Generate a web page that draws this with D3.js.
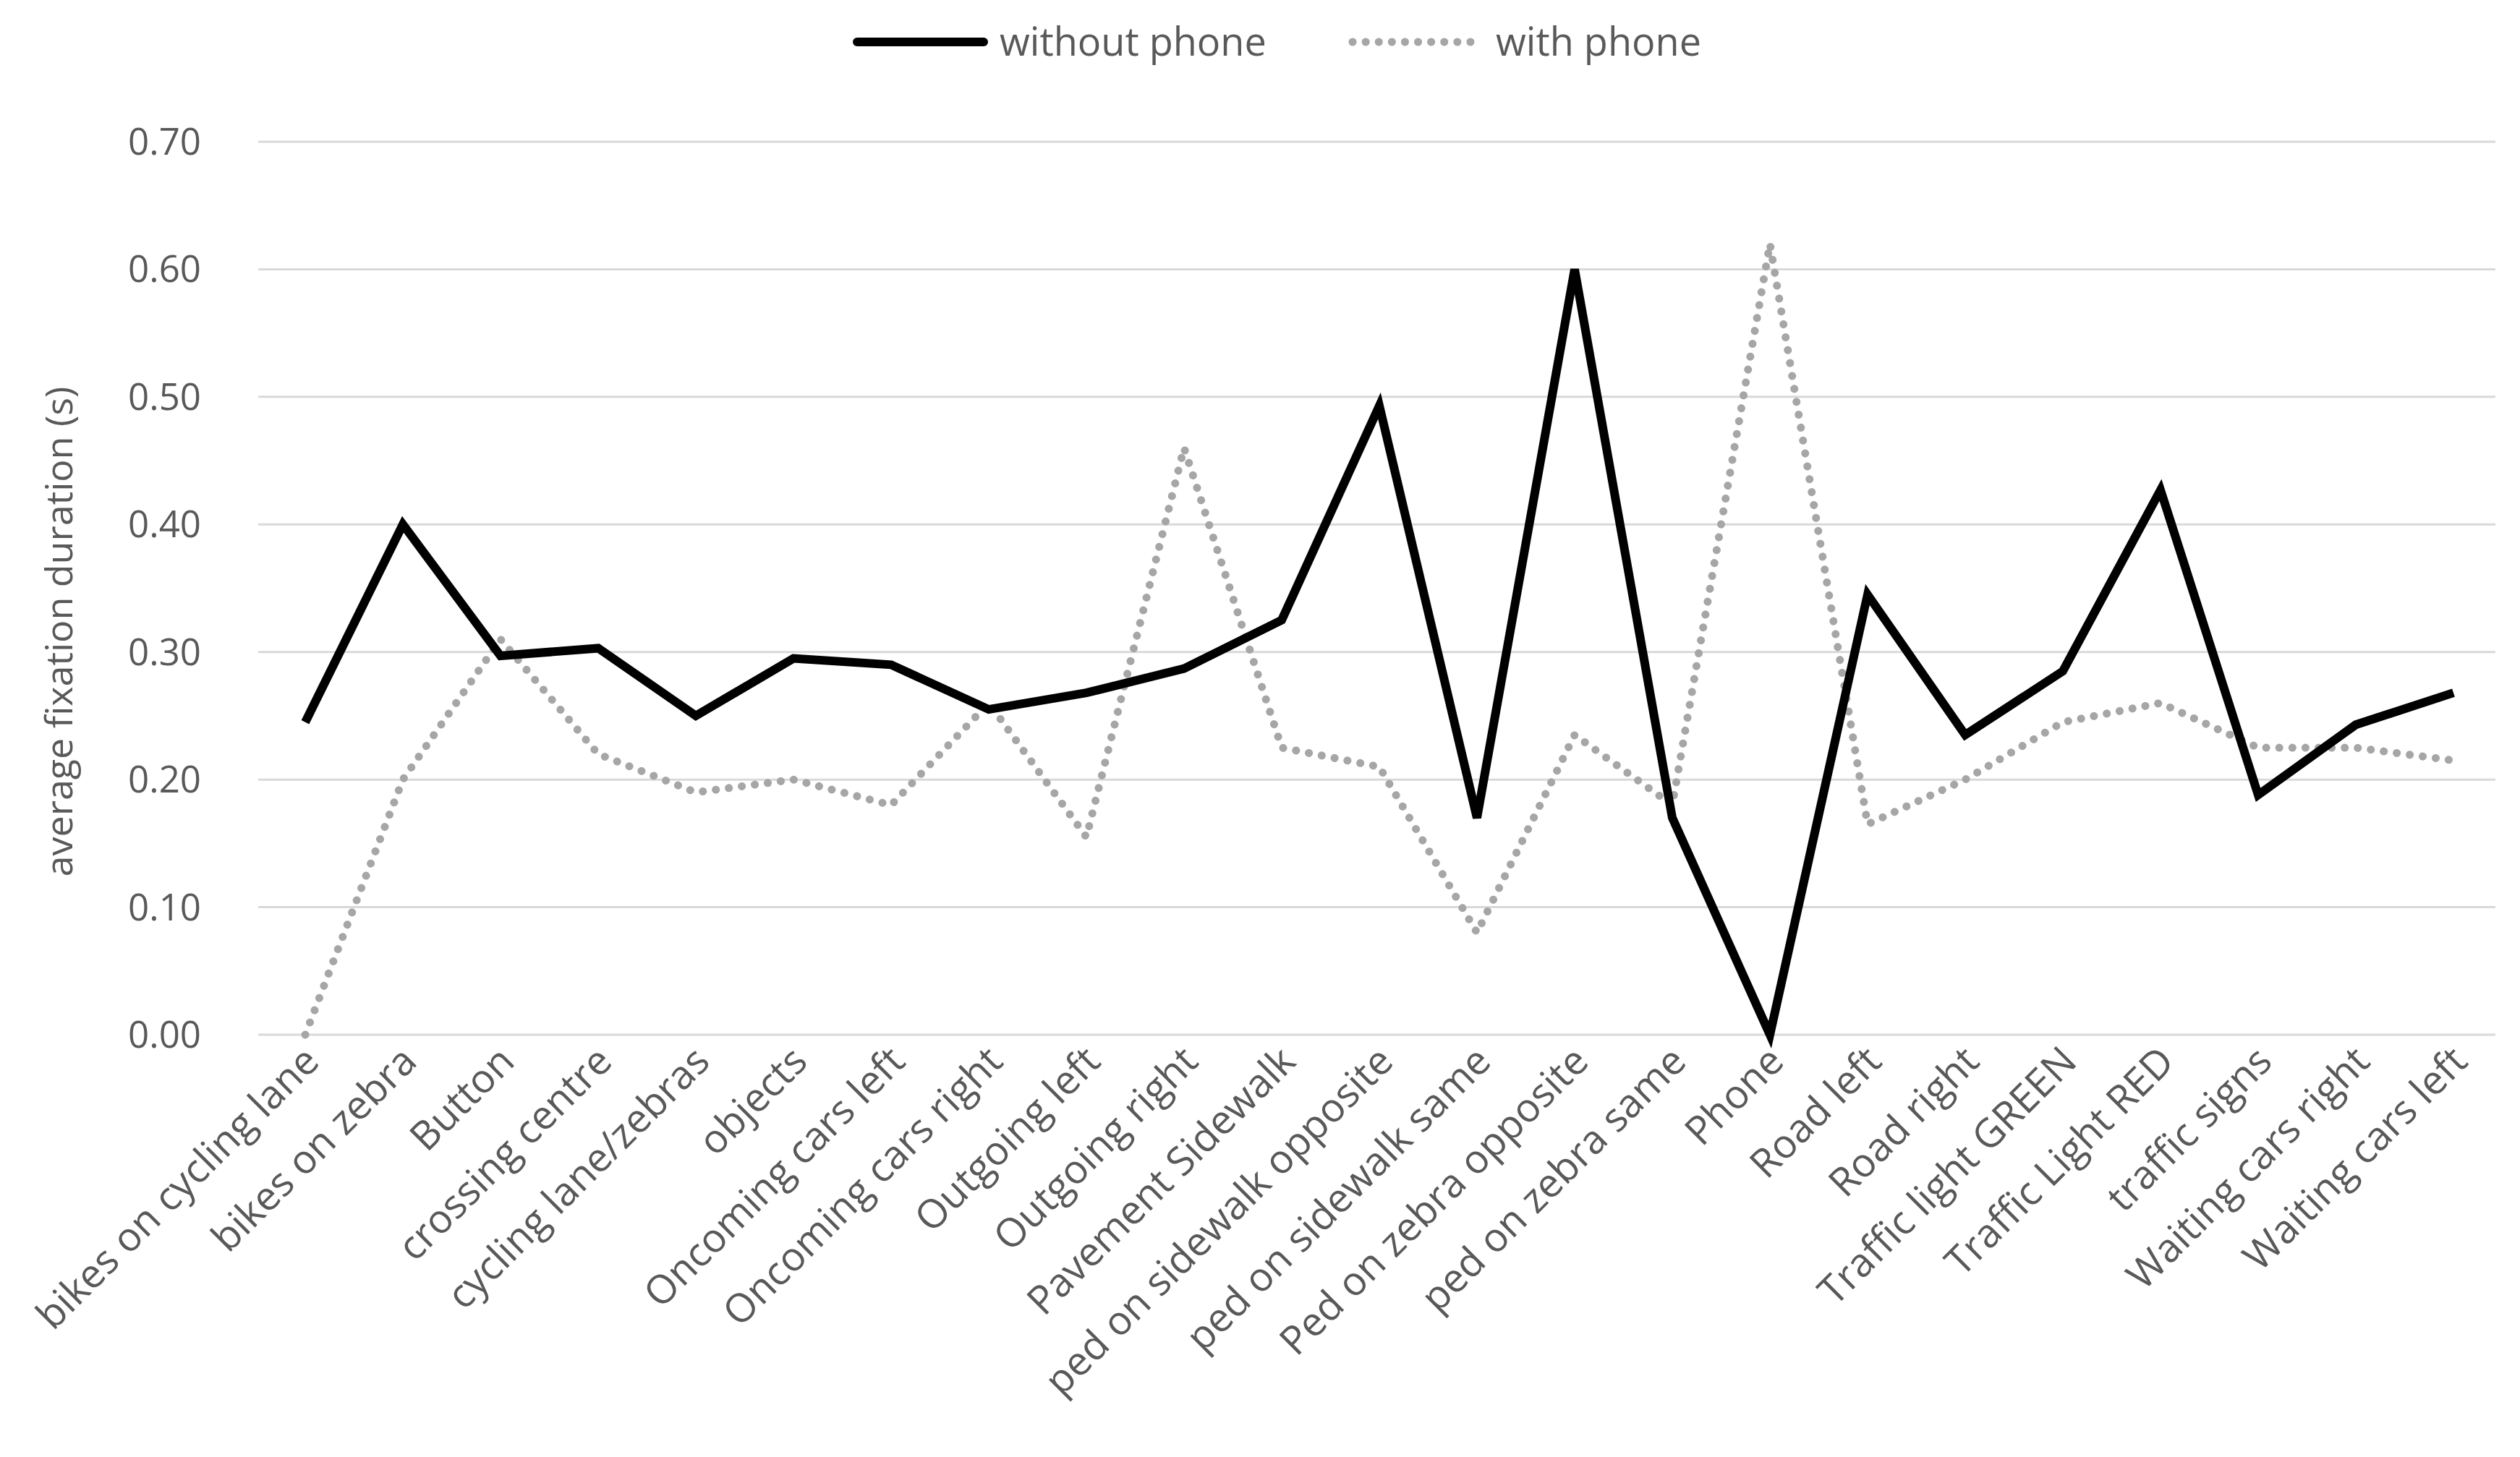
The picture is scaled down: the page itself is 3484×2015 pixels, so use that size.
<!DOCTYPE html>
<html><head><meta charset="utf-8">
<script src="https://cdn.jsdelivr.net/npm/d3@7"></script>
<style>body{margin:0;background:#fff}</style></head>
<body><svg id="c" width="3484" height="2015"></svg>
<script>
const categories=["bikes on cycling lane","bikes on zebra","Button","crossing centre","cycling lane/zebras","objects","Oncoming cars left","Oncoming cars right","Outgoing left","Outgoing right","Pavement Sidewalk","ped on sidewalk opposite","ped on sidewalk same","Ped on zebra opposite","ped on zebra same","Phone","Road left","Road right","Traffic light GREEN","Traffic Light RED","traffic signs","Waiting cars right","Waiting cars left"];
const withoutPhone=[0.245,0.40,0.297,0.303,0.25,0.295,0.29,0.255,0.268,0.287,0.325,0.493,0.17,0.60,0.17,0.0,0.345,0.235,0.285,0.427,0.188,0.243,0.268];
const withPhone=[0.0,0.20,0.31,0.22,0.19,0.20,0.18,0.26,0.155,0.46,0.225,0.21,0.08,0.235,0.18,0.62,0.165,0.2,0.245,0.26,0.225,0.225,0.215];
const yTicks=[0,0.1,0.2,0.3,0.4,0.5,0.6,0.7];
const svg=d3.select("#c"),font="'Open Sans', 'Liberation Sans', sans-serif";
const L=357,R=3450,T=196,B=1431;
const x=d3.scalePoint().domain(categories).range([422,3392]);
const y=d3.scaleLinear().domain([0,0.7]).range([B,T]);
const g=svg.append("g");
g.selectAll("line.g").data(yTicks).join("line").attr("x1",L).attr("x2",R)
 .attr("y1",d=>y(d)).attr("y2",d=>y(d)).attr("stroke","#d9d9d9").attr("stroke-width",3);
g.selectAll("text.y").data(yTicks).join("text").attr("x",278).attr("y",d=>y(d)+18)
 .attr("text-anchor","end").attr("font-family",font).attr("font-size",51).attr("fill","#595959").text(d=>d.toFixed(2));
g.selectAll("text.x").data(categories).join("text")
 .attr("transform",d=>`translate(${x(d)+22},${B+40}) rotate(-45)`)
 .attr("text-anchor","end").attr("font-family",font).attr("font-size",55).attr("fill","#595959").text(d=>d);
svg.append("text").attr("transform",`translate(100,${(T+B)/2+60}) rotate(-90)`).attr("text-anchor","middle")
 .attr("font-family",font).attr("font-size",52).attr("fill","#595959").text("average fixation duration (s)");
const line=d3.line().x((d,i)=>x(categories[i])).y(d=>y(d));
svg.append("path").attr("d",line(withPhone)).attr("fill","none").attr("stroke","#a6a6a6")
 .attr("stroke-width",11).attr("stroke-dasharray","0.1 18").attr("stroke-linecap","round");
svg.append("path").attr("d",line(withoutPhone)).attr("fill","none").attr("stroke","#000")
 .attr("stroke-width",12).attr("stroke-linejoin","miter");
// legend
svg.append("line").attr("x1",1185).attr("x2",1360).attr("y1",58).attr("y2",58).attr("stroke","#000").attr("stroke-width",12).attr("stroke-linecap","round");
svg.append("text").attr("x",1382).attr("y",77).attr("font-family",font).attr("font-size",54).attr("fill","#595959").text("without phone");
svg.append("line").attr("x1",1870).attr("x2",2035).attr("y1",58).attr("y2",58).attr("stroke","#a6a6a6").attr("stroke-width",11).attr("stroke-dasharray","0.1 18").attr("stroke-linecap","round");
svg.append("text").attr("x",2068).attr("y",77).attr("font-family",font).attr("font-size",54).attr("fill","#595959").text("with phone");
</script></body></html>
